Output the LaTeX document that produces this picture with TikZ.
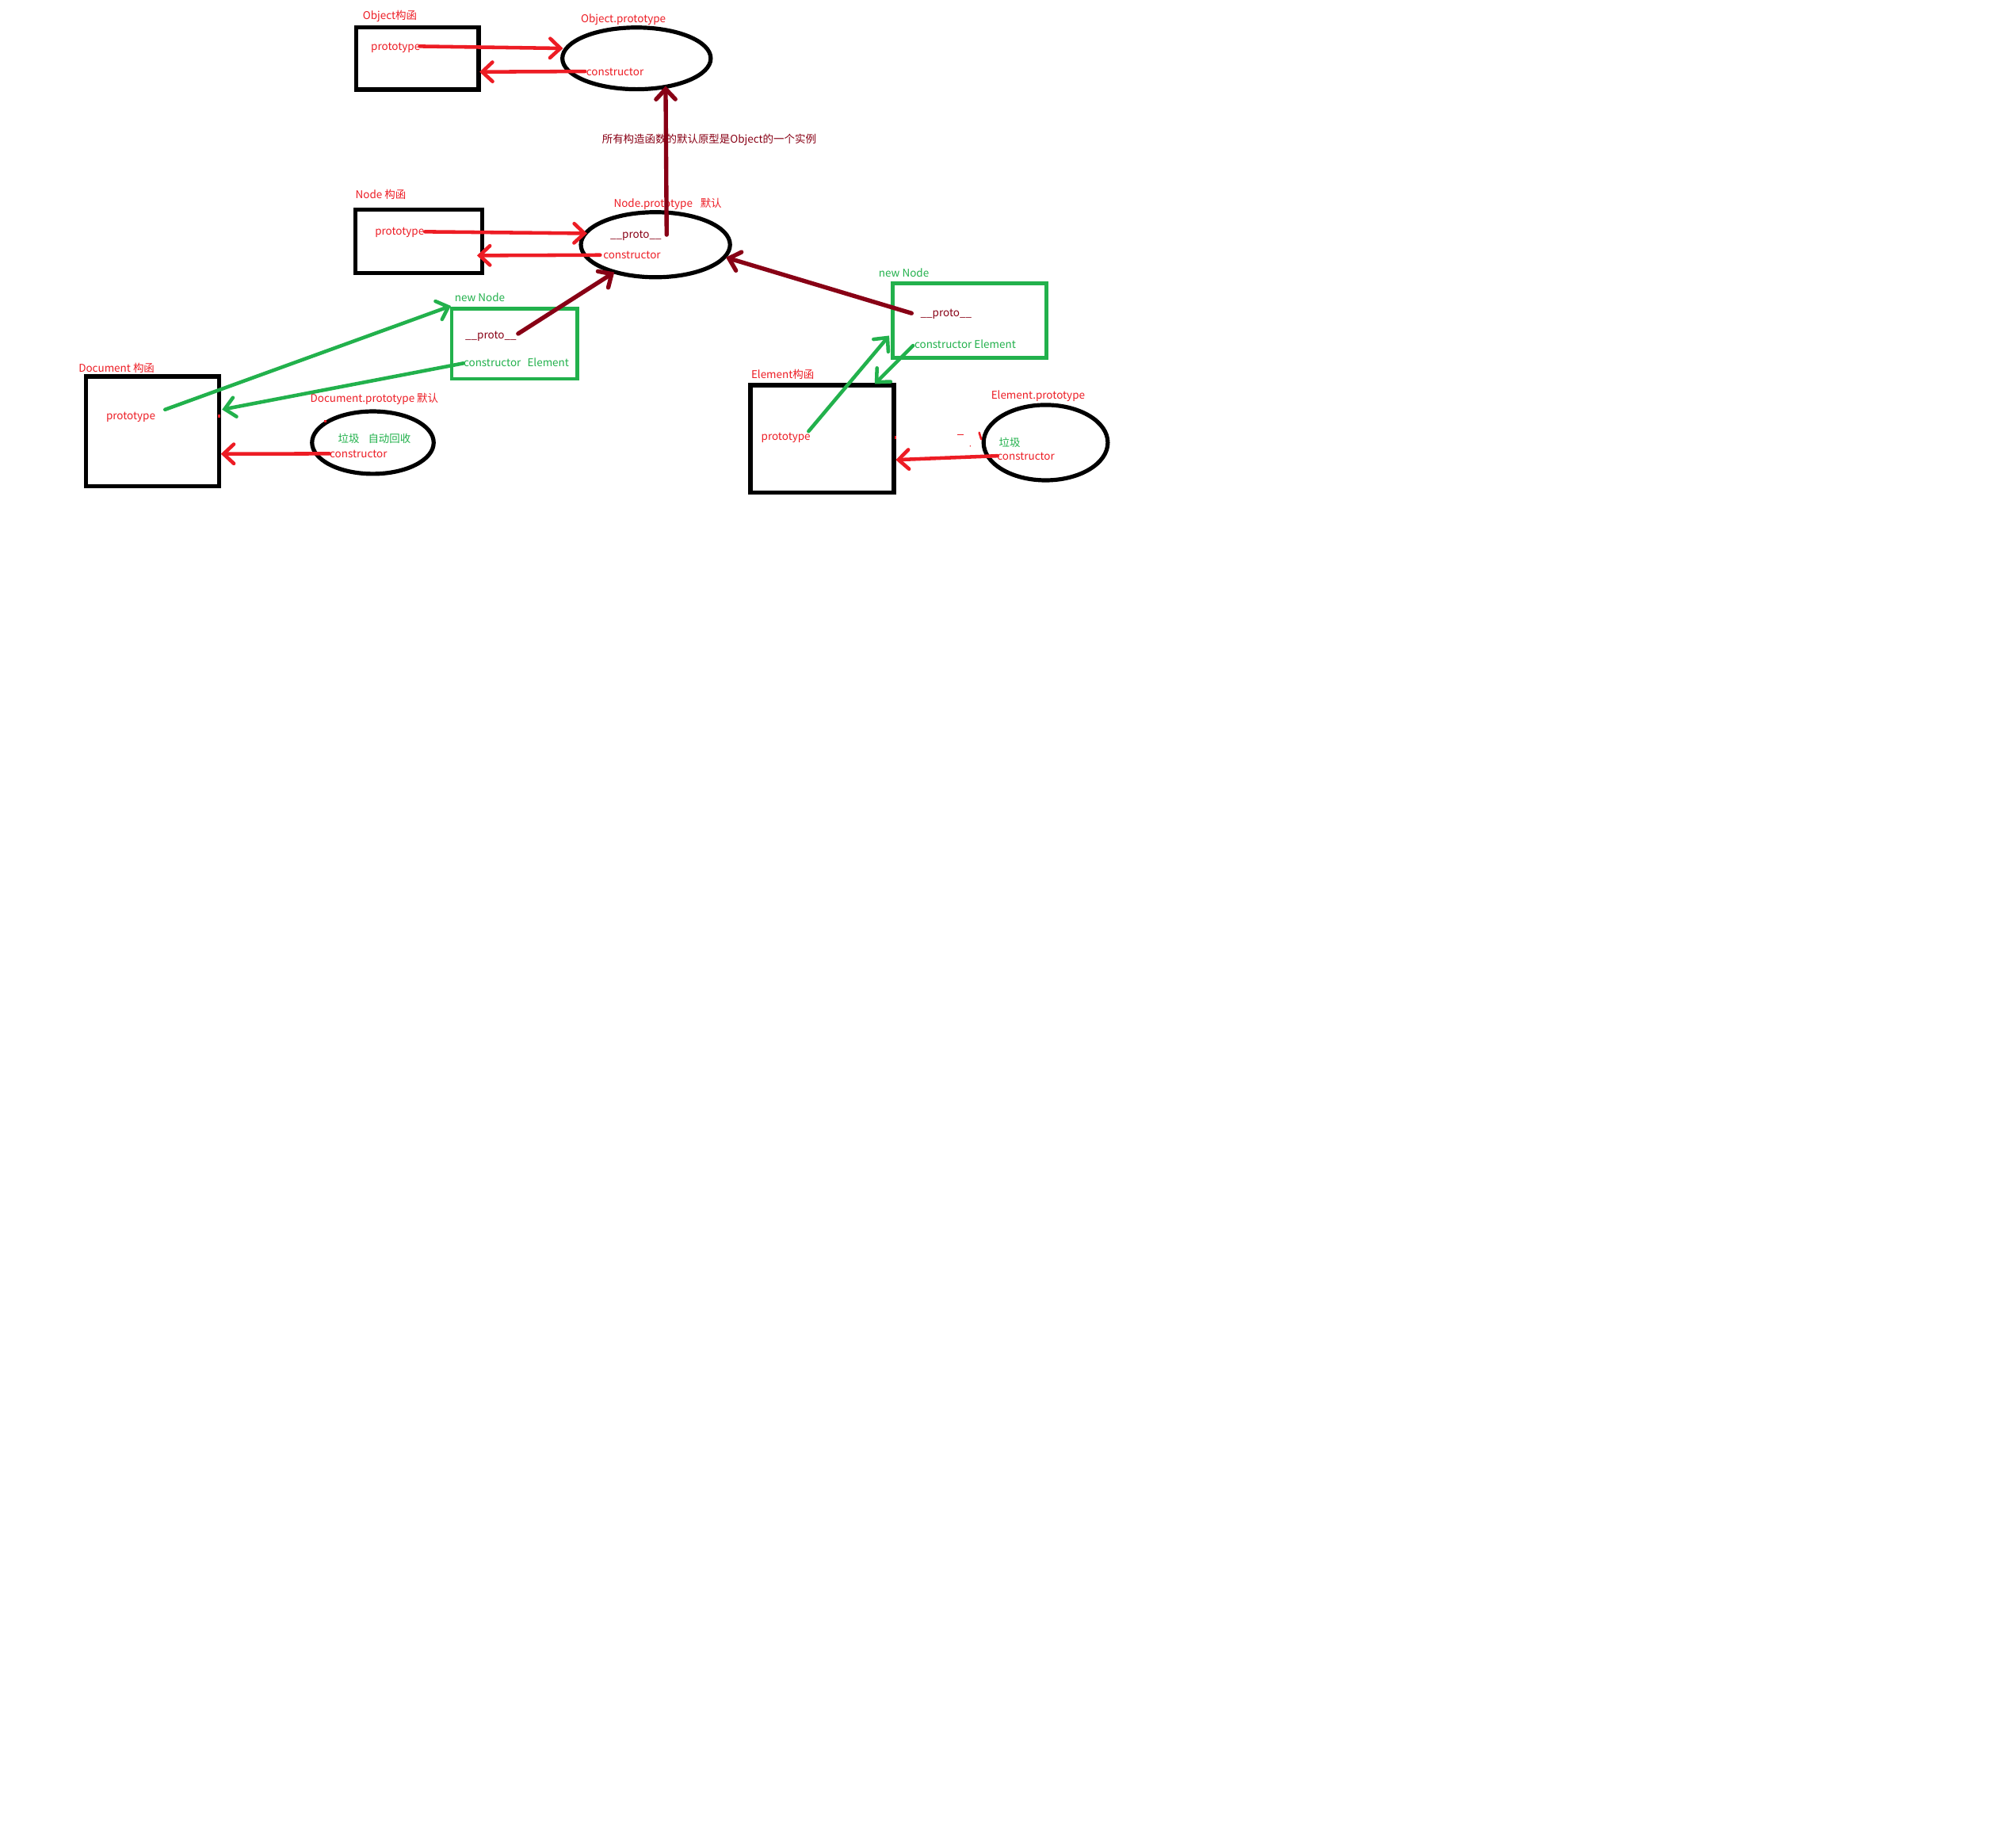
\documentclass[tikz,border=0pt]{standalone}
\usepackage{fontspec}
\setmainfont{Noto Sans CJK SC}
\usetikzlibrary{arrows.meta,shapes.geometric}
\definecolor{pred}{HTML}{ED1C24}
\definecolor{pgreen}{HTML}{22B14C}
\definecolor{pdark}{HTML}{880015}
\begin{document}
\begin{tikzpicture}[x=1pt,y=-1pt,
  lbl/.style={anchor=west,inner sep=0pt,text height=6.5pt,text depth=1.5pt,yshift=-0.6pt,font=\fontsize{8.3}{10}\selectfont},
  rtxt/.style={lbl,text=pred},
  gtxt/.style={lbl,text=pgreen},
  dtxt/.style={lbl,text=pdark},
  blackbox/.style={draw=black,line width=3.2pt,rectangle,inner sep=0pt},
  greenbox/.style={draw=pgreen,line width=2.8pt,rectangle,inner sep=0pt},
  oval/.style={draw=black,line width=3.2pt,ellipse,inner sep=0pt},
  link/.style={line width=2.8pt,line cap=round,line join=round,-{Straight Barb[length=8pt,width=15pt,line cap=round]}},
  rlink/.style={link,draw=pred},
  glink/.style={link,draw=pgreen},
  dlink/.style={link,draw=pdark,line width=3.3pt},
  speck/.style={draw=pred,line width=1.6pt}
]
\fill[white] (0,0) rectangle (1568,1422.6);
\useasboundingbox (0,0) rectangle (1568,1422.6);

% shapes
\node[blackbox,minimum width=95.1pt,minimum height=48.6pt] (objbox) at (324.75,45.4) {};
\node[oval,minimum width=115.4pt,minimum height=48pt] (objell) at (495.1,45.4) {};
\node[blackbox,minimum width=98.3pt,minimum height=49.6pt] (nodebox) at (325.75,187.7) {};
\node[oval,minimum width=116pt,minimum height=50.6pt] (npell) at (509.8,190.3) {};
\node[greenbox,minimum width=97.7pt,minimum height=54.3pt] (nnabox) at (400.15,267.35) {};
\node[blackbox,minimum width=103.3pt,minimum height=85.1pt] (docbox) at (118.55,335.35) {};
\node[oval,minimum width=94.6pt,minimum height=48.6pt] (dpell) at (290,344.2) {};
\node[greenbox,minimum width=119.6pt,minimum height=57.8pt] (nnbbox) at (754.2,249.4) {};
\node[blackbox,minimum width=111.5pt,minimum height=83.7pt] (elbox) at (639.45,341.35) {};
\node[oval,minimum width=96.6pt,minimum height=58.6pt] (epell) at (813.3,344.2) {};

% texts
\node[rtxt] (objlbl) at (282,11.8) {Object构函};
\node[rtxt] (objproto) at (288.4,36) {prototype};
\node[rtxt] (objpl) at (451.6,14.4) {Object.prototype};
\node[rtxt] (objcons) at (455.8,55.5) {constructor};
\node[dtxt] (note) at (468.1,107.9) {所有构造函数的默认原型是Object的一个实例};
\node[rtxt] (nodelbl) at (276.3,151.5) {Node 构函};
\node[rtxt] (nodeproto) at (291.5,179.4) {prototype};
\node[rtxt] (nplbl) at (477.2,158.2) {Node.prototype\hspace{6pt}默认};
\node[dtxt] (npproto) at (474.5,182.3) {\_\_proto\_\_};
\node[rtxt] (npcons) at (469,198.3) {constructor};
\node[gtxt] (nnalbl) at (353.5,231.6) {new Node};
\node[dtxt] (nnaproto) at (361.7,260.3) {\_\_proto\_\_};
\node[gtxt] (nnacons) at (360.4,282.1) {constructor\hspace{5pt}Element};
\node[rtxt] (doclbl) at (61,286.2) {Document 构函};
\node[rtxt] (docproto) at (82.4,323.2) {prototype};
\node[rtxt] (dplbl) at (241.2,309.9) {Document.prototype 默认};
\node[gtxt] (dpjunk) at (262.7,341.1) {垃圾};
\node[gtxt] (dpauto) at (286.1,341.1) {自动回收};
\node[rtxt] (dpcons) at (256.3,352.8) {constructor};
\node[gtxt] (nnblbl) at (683.3,212.3) {new Node};
\node[dtxt] (nnbproto) at (715.8,243) {\_\_proto\_\_};
\node[gtxt] (nnbcons) at (711.1,267.8) {constructor Element};
\node[rtxt] (ellbl) at (584.1,291.2) {Element构函};
\node[rtxt] (elproto) at (591.9,339.5) {prototype};
\node[rtxt] (eplbl) at (770.7,307.5) {Element.prototype};
\node[gtxt] (epjunk) at (776.8,344.3) {垃圾};
\node[rtxt] (epcons) at (775.4,354.5) {constructor};

% connector end points
\coordinate (a1s) at (326.4,36);    \coordinate (a1e) at (437.9,37.6);
\coordinate (a2s) at (455,55.5);    \coordinate (a2e) at (373,55.9);
\coordinate (a3s) at (518.5,182.5); \coordinate (a3e) at (517.7,66.8);
\coordinate (a4s) at (330.5,180.2); \coordinate (a4e) at (456.6,181.5);
\coordinate (a5s) at (466.8,198.3); \coordinate (a5e) at (371,198.7);
\coordinate (a6s) at (709,243.6);   \coordinate (a6e) at (564.6,200.2);
\coordinate (a7s) at (403,259.5);   \coordinate (a7e) at (477.8,211.7);
\coordinate (a8s) at (360.4,282.5); \coordinate (a8e) at (172.7,318.5);
\coordinate (a9s) at (128.4,318.5); \coordinate (a9e) at (350.7,237.9);
\coordinate (a10s) at (256.3,352.8); \coordinate (a10e) at (171.8,353);
\coordinate (a11s) at (710.1,268.8); \coordinate (a11e) at (680.3,298.6);
\coordinate (a12s) at (628.9,335.4); \coordinate (a12e) at (691.6,261);
\coordinate (a13s) at (775.8,354.5); \coordinate (a13e) at (696.7,357.6);

% connectors
\draw[rlink] (a1s) -- (a1e);
\draw[rlink] (a2s) -- (a2e);
\draw[dlink] (a3s) -- (a3e);
\draw[rlink] (a4s) -- (a4e);
\draw[rlink] (a5s) -- (a5e);
\draw[dlink] (a6s) -- (a6e);
\draw[dlink] (a7s) -- (a7e);
\draw[glink] (a8s) -- (a8e);
\draw[glink] (a9s) -- (a9e);
\draw[rlink] (a10s) -- (a10e);
\draw[glink] (a11s) -- (a11e);
\draw[glink] (a12s) -- (a12e);
\draw[rlink] (a13s) -- (a13e);

% small stray marks
\draw[speck] (170.6,322.4) -- (170.6,325);
\draw[speck] (253,326.6) -- (253,328.6);
\draw[draw=pred,line width=0.9pt] (744.6,338) -- (749.6,338);
\draw[speck,line cap=round] (761.6,336.4) -- (763.2,341.6);
\draw[speck] (696.4,339) -- (696.4,341.6);
\fill[pred] (754.6,346.9) circle (0.5pt);
\end{tikzpicture}
\end{document}
